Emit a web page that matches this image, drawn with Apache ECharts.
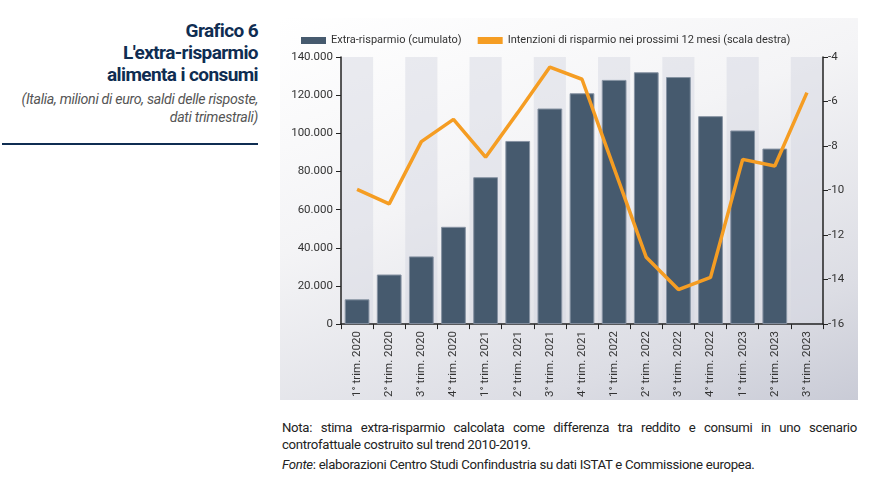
<!DOCTYPE html>
<html>
<head>
<meta charset="utf-8">
<script src="https://cdn.jsdelivr.net/npm/echarts@6/dist/echarts.min.js"></script>
<style>
  html, body { margin:0; padding:0; background:#fff; width:874px; height:481px; overflow:hidden; font-family: Roboto, "Noto Sans", sans-serif; }
  #side { position:absolute; left:0; top:0; width:258px; }
  #title { position:absolute; right:0; top:20px; text-align:right; color:#0f2d52; font-weight:700; font-size:19px; line-height:22px; letter-spacing:-0.6px; white-space:nowrap; }
  #sub { position:absolute; right:0; top:90px; text-align:right; color:#555; font-style:italic; font-size:14.2px; line-height:18px; letter-spacing:-0.3px; white-space:nowrap; }
  #rule { position:absolute; left:2px; top:143px; width:256px; height:2px; background:#0f2d52; }
  #chart { position:absolute; left:280px; top:18px; width:578px; height:382px;
           background: linear-gradient(160deg, #ffffff 0%, #f4f4f6 40%, #dcdde4 80%, #c9cbd6 100%); }
  #notes { position:absolute; left:282px; top:419px; width:575px; color:#222; font-size:13.2px; line-height:17px; letter-spacing:-0.3px; text-align:justify; }
  #notes p { margin:0; }
</style>
</head>
<body>
<div id="side">
  <div id="title">Grafico 6<br>L'extra-risparmio<br>alimenta i consumi</div>
  <div id="sub">(Italia, milioni di euro, saldi delle risposte,<br>dati trimestrali)</div>
  <div id="rule"></div>
</div>
<div id="chart"></div>
<div id="notes">
  <p>Nota: stima extra-risparmio calcolata come differenza tra reddito e consumi in uno scenario controfattuale costruito sul trend 2010-2019.</p>
  <p style="margin-top:3px"><i>Fonte</i>: elaborazioni Centro Studi Confindustria su dati ISTAT e Commissione europea.</p>
</div>
<script>
const categories = ["1° trim. 2020","2° trim. 2020","3° trim. 2020","4° trim. 2020",
  "1° trim. 2021","2° trim. 2021","3° trim. 2021","4° trim. 2021",
  "1° trim. 2022","2° trim. 2022","3° trim. 2022","4° trim. 2022",
  "1° trim. 2023","2° trim. 2023","3° trim. 2023"];
const extraRisparmio = [13000, 26000, 35500, 51000, 77000, 96000, 113000, 121000,
  128000, 132000, 129500, 109000, 101500, 92000, null];
const intenzioni = [-9.95, -10.6, -7.8, -6.8, -8.5, -6.5, -4.45, -5.0,
  -9.0, -13.0, -14.45, -13.9, -8.6, -8.9, -5.6];
const leftTicks = {min:0, max:140000, interval:20000};
const rightTicks = {min:-16, max:-4, interval:2};

const chart = echarts.init(document.getElementById('chart'), null, {renderer:'canvas'});
const fmt = v => String(v).replace(/\B(?=(\d{3})+(?!\d))/g, '.');
chart.setOption({
  backgroundColor: 'transparent',
  textStyle: { fontFamily: 'Roboto' },
  animation: false,
  legend: {
    left: 16, top: 12, itemGap: 16, itemWidth: 25, itemHeight: 7,
    textStyle: { fontSize: 11, color: '#333', fontFamily: 'Roboto' },
    data: [
      { name: 'Extra-risparmio (cumulato)', icon: 'rect', itemStyle:{borderWidth:0} },
      { name: 'Intenzioni di risparmio nei prossimi 12 mesi (scala destra)', icon: 'rect',
        itemStyle: { color: '#f59d23', borderWidth: 0 } }
    ]
  },
  grid: { left: 61, right: 35, top: 39, bottom: 74 },
  xAxis: {
    type: 'category', data: categories, boundaryGap: true,
    axisLine: { lineStyle: { color: '#222', width: 1.5 } },
    axisTick: { show: true, length: 5, lineStyle: { color: '#222' } },
    axisLabel: { rotate: 90, fontSize: 11.5, color: '#333', margin: 7 },
    splitArea: { show: true, areaStyle: { color: ['rgba(210,213,224,0.45)', 'rgba(255,255,255,0.0)'] } }
  },
  yAxis: [
    { type: 'value', min: leftTicks.min, max: leftTicks.max, interval: leftTicks.interval,
      axisLine: { show: true, lineStyle: { color: '#222', width: 1.5 } },
      axisTick: { show: true, length: 5, lineStyle: { color: '#222' } },
      axisLabel: { fontSize: 11.5, color: '#333', margin: 8, formatter: fmt },
      splitLine: { show: false } },
    { type: 'value', position: 'right', min: rightTicks.min, max: rightTicks.max, interval: rightTicks.interval,
      axisLine: { show: true, lineStyle: { color: '#222', width: 1.5 } },
      axisTick: { show: true, length: 5, lineStyle: { color: '#222' } },
      axisLabel: { fontSize: 11.5, color: '#333', margin: 5 },
      splitLine: { show: false } }
  ],
  series: [
    { name: 'Extra-risparmio (cumulato)', type: 'bar', data: extraRisparmio, yAxisIndex: 0,
      barWidth: '77%',
      itemStyle: { color: '#465a6e', borderColor: '#8793a3', borderWidth: 1 } },
    { name: 'Intenzioni di risparmio nei prossimi 12 mesi (scala destra)', type: 'line',
      data: intenzioni, yAxisIndex: 1, showSymbol: false, symbol: 'none',
      lineStyle: { color: '#f59d23', width: 3.5 }, itemStyle: { color: '#f59d23' } }
  ]
});
</script>
</body>
</html>
